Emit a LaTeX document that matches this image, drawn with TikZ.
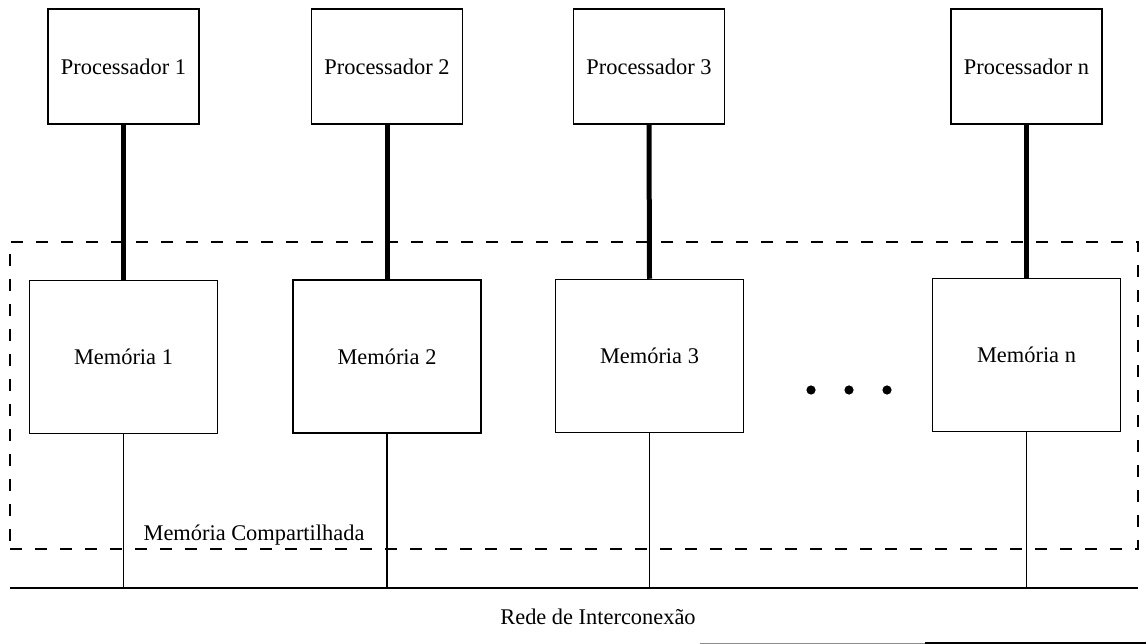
\documentclass[tikz,border=0pt]{standalone}
\usepackage{fontspec}
\setmainfont{Liberation Serif}
\begin{document}
\begin{tikzpicture}[x=1pt,y=-1pt,
  lbl/.style={font=\fontsize{22.4}{26}\selectfont},
  procbox/.style={draw, line width=1.5pt, minimum width=151pt, minimum height=115pt, inner sep=0pt, lbl},
  membox/.style={draw, line width=1.5pt, minimum width=188pt, minimum height=153pt, inner sep=0pt, lbl},
  sharedbox/.style={draw, line width=2.2pt, dash pattern=on 12pt off 13pt, minimum width=1128pt, minimum height=307pt, inner sep=0pt},
  procwire/.style={line width=5pt},
  buswire/.style={line width=1.8pt},
  bus/.style={line width=2.6pt},
  dotmark/.style={fill=black}]
\useasboundingbox (0,0) rectangle (1146,644);

% shared memory region
\node[sharedbox] (shm) at (574,395.5) {};
\node[lbl, anchor=base] (shmlabel) at (254,540) {Memória Compartilhada};

% processors
\node[procbox] (p1) at (123.5,66.5) {Processador 1};
\node[procbox] (p2) at (387,66.5) {Processador 2};
\node[procbox] (p3) at (649,66.5) {Processador 3};
\node[procbox] (pn) at (1026.5,66.5) {Processador n};

% memory modules
\node[membox] (m1) at (123.5,357) {Memória 1};
\node[membox] (m2) at (387,356.5) {Memória 2};
\node[membox] (m3) at (649.5,356) {Memória 3};
\node[membox] (mn) at (1026.5,355) {Memória n};

% ellipsis between modules
\fill[dotmark] (811,390) circle (4.6);
\fill[dotmark] (849,390) circle (4.6);
\fill[dotmark] (887,390) circle (4.6);

% interconnection network
\coordinate (busL) at (10,588);
\coordinate (busR) at (1138,588);
\draw[bus] (busL) -- (busR);
\node[lbl] (net) at (598,617) {Rede de Interconexão};
\draw[line width=1pt, black!45] (700,643) -- (925,643);
\draw[line width=1.2pt] (925,643) -- (1146,643);

% processor to memory links
\draw[procwire] (p1.south) -- (m1.north);
\draw[procwire] (p2.south) -- (m2.north);
\draw[procwire] (p3.south) -- (m3.north);
\draw[procwire] (pn.south) -- (mn.north);

% memory to network links
\coordinate (b1) at (m1.south |- busL);
\coordinate (b2) at (m2.south |- busL);
\coordinate (b3) at (m3.south |- busL);
\coordinate (bn) at (mn.south |- busL);
\draw[buswire] (m1.south) -- (b1);
\draw[buswire] (m2.south) -- (b2);
\draw[buswire] (m3.south) -- (b3);
\draw[buswire] (mn.south) -- (bn);
\end{tikzpicture}
\end{document}
